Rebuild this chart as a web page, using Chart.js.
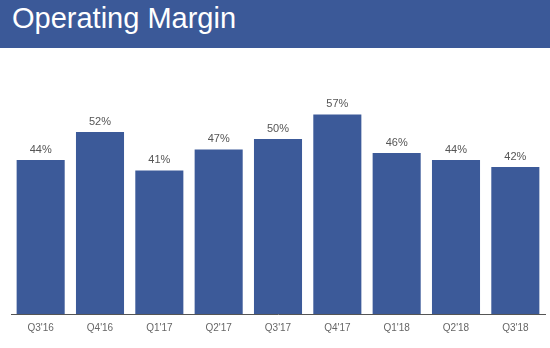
<!DOCTYPE html>
<html>
<head>
<meta charset="utf-8">
<script src="https://cdn.jsdelivr.net/npm/chart.js@4.4.1/dist/chart.umd.min.js"></script>
<style>
  html, body { margin: 0; padding: 0; background: #fff; }
  #wrap { position: relative; width: 550px; height: 348px; overflow: hidden; }
  .title-bar {
    position: absolute; left: 0; top: 0; width: 550px; height: 48px;
    background: #3b5998; color: #fff;
    font-family: "Liberation Sans", Arial, sans-serif; font-size: 29px;
    line-height: 36px; padding-left: 12px; box-sizing: border-box;
  }
  canvas { position: absolute; left: 0; top: 0; }
</style>
</head>
<body>
<div id="wrap">
  <canvas id="marginChart" width="550" height="348"></canvas>
  <div class="title-bar">Operating Margin</div>
</div>
<script>
// quarters and operating margin (%)
const quarters = ["Q3'16", "Q4'16", "Q1'17", "Q2'17", "Q3'17", "Q4'17", "Q1'18", "Q2'18", "Q3'18"];
const margins = [44, 52, 41, 47, 50, 57, 46, 44, 42];

// value labels drawn above each bar
const barLabels = {
  id: "barLabels",
  afterDatasetsDraw(chart) {
    const ctx = chart.ctx;
    const meta = chart.getDatasetMeta(0);
    ctx.save();
    ctx.font = "11px 'Liberation Sans', Arial, sans-serif";
    ctx.fillStyle = "#555";
    ctx.textAlign = "center";
    ctx.textBaseline = "bottom";
    meta.data.forEach((bar, i) => {
      ctx.fillText(margins[i] + "%", bar.x, bar.y - 5);
    });
    ctx.restore();
  }
};

new Chart(document.getElementById("marginChart"), {
  type: "bar",
  data: {
    labels: quarters,
    datasets: [{
      data: margins,
      backgroundColor: "#3c5a99",
      categoryPercentage: 1,
      barPercentage: 0.81
    }]
  },
  options: {
    responsive: false,
    animation: false,
    layout: { padding: { left: 11, right: 5, top: 104, bottom: 6 } },
    plugins: {
      legend: { display: false },
      tooltip: { enabled: false }
    },
    scales: {
      x: {
        grid: { display: false, drawTicks: false },
        border: { display: true, color: "#555", width: 1 },
        ticks: {
          color: "#666",
          padding: 8,
          font: { family: "'Liberation Sans', Arial, sans-serif", size: 10 }
        }
      },
      y: {
        display: false,
        min: 0,
        max: 60
      }
    }
  },
  plugins: [barLabels]
});
</script>
</body>
</html>
